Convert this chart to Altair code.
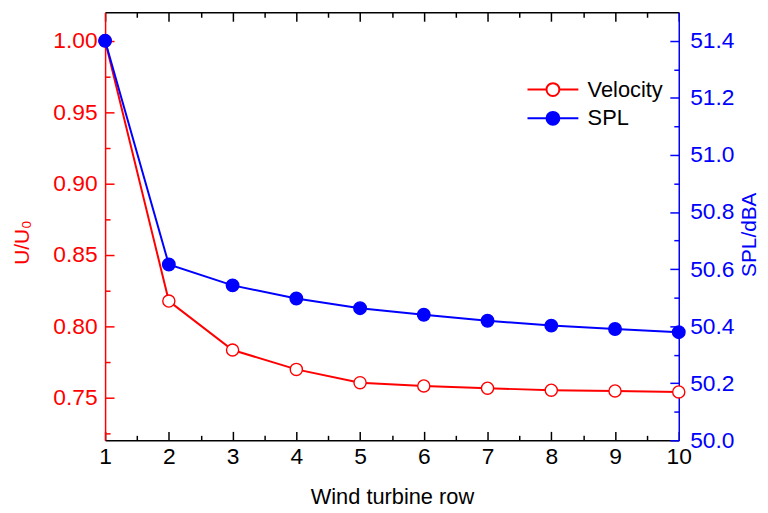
import altair as alt
import pandas as pd

# ---- data ----
rows = [1, 2, 3, 4, 5, 6, 7, 8, 9, 10]
velocity = [1.000, 0.8176, 0.7833, 0.7697, 0.7604, 0.7581, 0.7565, 0.7551, 0.7546, 0.7539]
spl = [51.40, 50.616, 50.543, 50.497, 50.463, 50.440, 50.419, 50.402, 50.390, 50.379]
series_names = ["Velocity", "SPL"]
line_colors = ["#ff0000", "#0000ff"]
marker_fills = ["#ffffff", "#0000ff"]

x_major = rows
x_minor = [1.5, 2.5, 3.5, 4.5, 5.5, 6.5, 7.5, 8.5, 9.5]
left_major = [0.75, 0.80, 0.85, 0.90, 0.95, 1.00]
left_minor = [0.725, 0.775, 0.825, 0.875, 0.925, 0.975]
right_major = [50.0, 50.2, 50.4, 50.6, 50.8, 51.0, 51.2, 51.4]
right_minor = [50.1, 50.3, 50.5, 50.7, 50.9, 51.1, 51.3]

FONT = "Liberation Sans"
RED = "#ff0000"
BLUE = "#0000ff"
TICK_FS = 23

vel_df = pd.DataFrame({"row": rows, "value": velocity, "series": "Velocity"})
spl_df = pd.DataFrame({"row": rows, "value": spl, "series": "SPL"})

xscale = alt.Scale(domain=[1, 10], nice=False, zero=False)
yl_scale = alt.Scale(domain=[0.72, 1.02], nice=False, zero=False)
yr_scale = alt.Scale(domain=[50.0, 51.5], nice=False, zero=False)
color_scale = alt.Scale(domain=series_names, range=line_colors)
fill_scale = alt.Scale(domain=series_names, range=marker_fills)

legend_path = "M-3.95,0L-1,0M1,0L3.95,0M1,0A1,1,0,1,1,-1,0A1,1,0,1,1,1,0Z"
legend = alt.Legend(
    title=None, orient="none", legendX=441, legendY=67, padding=0,
    symbolType=legend_path, symbolSize=169, symbolStrokeWidth=2,
    labelFont=FONT, labelFontSize=22, labelColor="black", labelOffset=24,
    rowPadding=7,
)


def xaxis(orient, values, size, labels, domain, title=None):
    kw = dict(
        orient=orient, values=values, tickSize=alt.ExprRef(expr=str(-size)),
        labels=labels, domain=domain, grid=False, tickColor="black",
        domainColor="black", tickWidth=1.5, domainWidth=1.5, labelFlush=False,
    )
    if labels:
        kw.update(format="d", labelFont=FONT, labelFontSize=TICK_FS, labelColor="black",
                  labelPadding=size + 5)
    if title:
        kw.update(title=title, titleFont=FONT, titleFontSize=22, titleFontWeight="normal",
                  titleColor="black", titleY=64, titleBaseline="alphabetic")
    else:
        kw.update(title=None)
    return alt.Axis(**kw)


def yaxis(orient, values, size, labels, domain, color, fmt=None, title=None, tx=0, ty=0,
          tbase="middle"):
    kw = dict(
        orient=orient, values=values, tickSize=alt.ExprRef(expr=str(-size)),
        labels=labels, domain=domain, grid=False, tickColor=color,
        domainColor=color, tickWidth=1.5, domainWidth=1.5, labelFlush=False,
    )
    if labels:
        kw.update(format=fmt, labelFont=FONT, labelFontSize=TICK_FS, labelColor=color,
                  labelPadding=size + (8 if orient == "left" else 11))
    if title:
        kw.update(title=title, titleFont=FONT, titleFontSize=21, titleFontWeight="normal",
                  titleColor=color, titleAngle=270, titleX=tx, titleY=ty,
                  titleAlign="center", titleBaseline=tbase)
    else:
        kw.update(title=None)
    return alt.Axis(**kw)


vel_line = alt.Chart(vel_df).mark_line(strokeWidth=2).encode(
    x=alt.X("row:Q", scale=xscale, axis=xaxis("bottom", x_major, 9, True, True, "Wind turbine row")),
    y=alt.Y("value:Q", scale=yl_scale,
            axis=yaxis("left", left_major, 9, True, True, RED, ".2f", "U/U₀", -83, 232)),
    color=alt.Color("series:N", scale=color_scale, legend=legend),
)

vel_pts = alt.Chart(vel_df).mark_point(shape="circle", size=150, strokeWidth=1.4, opacity=1).encode(
    x=alt.X("row:Q", scale=xscale, axis=xaxis("bottom", x_minor, 5, False, False)),
    y=alt.Y("value:Q", scale=yl_scale, axis=yaxis("left", left_minor, 5, False, False, RED)),
    color=alt.Color("series:N", scale=color_scale, legend=legend),
    fill=alt.Fill("series:N", scale=fill_scale, legend=legend),
)

spl_line = alt.Chart(spl_df).mark_line(strokeWidth=2).encode(
    x=alt.X("row:Q", scale=xscale, axis=xaxis("top", x_major, 9, False, True)),
    y=alt.Y("value:Q", scale=yr_scale,
            axis=yaxis("right", right_major, 9, True, True, BLUE, ".1f", "SPL/dBA", 77, 224,
                       "alphabetic")),
    color=alt.Color("series:N", scale=color_scale, legend=legend),
)

spl_pts = alt.Chart(spl_df).mark_point(shape="circle", size=160, strokeWidth=1.4, opacity=1).encode(
    x=alt.X("row:Q", scale=xscale, axis=xaxis("top", x_minor, 5, False, False)),
    y=alt.Y("value:Q", scale=yr_scale, axis=yaxis("right", right_minor, 5, False, False, BLUE)),
    color=alt.Color("series:N", scale=color_scale, legend=legend),
    fill=alt.Fill("series:N", scale=fill_scale, legend=legend),
)

chart = (
    alt.layer(vel_line, vel_pts, spl_line, spl_pts)
    .resolve_scale(y="independent")
    .resolve_axis(x="independent", y="independent")
    .properties(
        width=579, height=432,
        autosize=alt.AutoSizeParams(type="none"),
        padding={"left": 98, "top": 2, "right": 82, "bottom": 68},
        background="white",
    )
    .configure_view(stroke=None)
)

chart.save("out.html", embed_options={"renderer": "svg", "actions": False})
